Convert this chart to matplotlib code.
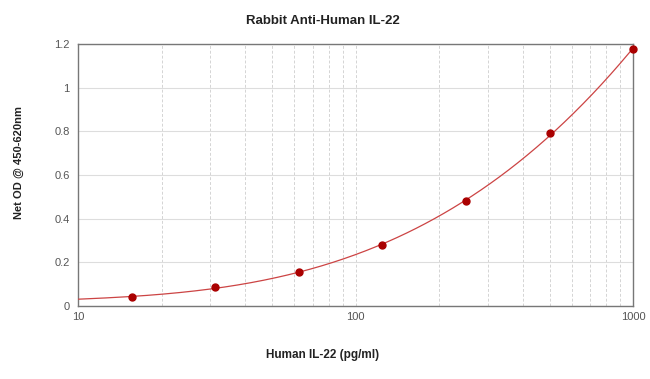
import numpy as np
import matplotlib
matplotlib.use("Agg")
import matplotlib.pyplot as plt
from matplotlib.ticker import LogLocator, FixedLocator, NullFormatter

plt.rcParams['font.family'] = ['Liberation Sans', 'DejaVu Sans']

conc = [15.625, 31.25, 62.5, 125, 250, 500, 1000]
od = [0.041, 0.087, 0.155, 0.280, 0.480, 0.790, 1.177]
title = "Rabbit Anti-Human IL-22"
xlabel = "Human IL-22 (pg/ml)"
ylabel = "Net OD @ 450-620nm"
yticks = [0, 0.2, 0.4, 0.6, 0.8, 1, 1.2]
yticklabels = ["0", "0.2", "0.4", "0.6", "0.8", "1", "1.2"]

fig = plt.figure(figsize=(6.5, 3.79), dpi=100)
ax = fig.add_axes([0.12, 0.1926, 0.854, 0.6914])

# fitted curve from the points (cubic in log concentration)
lx = np.log10(conc)
coef = np.polyfit(lx, od, 3)
xs = np.logspace(1, 3, 300)
ax.plot(xs, np.polyval(coef, np.log10(xs)), color='#cc4444', lw=0.9, zorder=3)
ax.plot(conc, od, 'o', color='#aa0000', ms=5, zorder=4, clip_on=False)

ax.set_xscale('log')
ax.set_xlim(10, 1000)
ax.set_ylim(0, 1.2)
ax.set_yticks(yticks)
ax.set_yticklabels(yticklabels)
ax.xaxis.set_major_locator(FixedLocator([10, 100, 1000]))
ax.set_xticklabels(["10", "100", "1000"])
ax.xaxis.set_minor_locator(LogLocator(base=10, subs=np.arange(2, 10)))
ax.xaxis.set_minor_formatter(NullFormatter())

ax.grid(axis='y', which='major', color='#dddddd', lw=0.8, ls='-')
ax.grid(axis='x', which='both', color='#d4d4d4', lw=0.7, ls=(0, (3, 2)))
ax.set_axisbelow(True)

for s in ax.spines.values():
    s.set_color('#777777')
    s.set_linewidth(1.0)

ax.tick_params(axis='both', which='both', length=0, labelsize=8, labelcolor='#555555')
ax.tick_params(axis='x', pad=4)
ax.tick_params(axis='y', pad=6)

fig.text(0.497, 0.945, title, ha='center', va='center',
         fontsize=9.5, fontweight='bold', color='#222222')
fig.text(0.497, 0.063, xlabel, ha='center', va='center',
         fontsize=8.5, fontweight='bold', color='#222222')
fig.text(0.029, 0.570, ylabel, ha='center', va='center', rotation=90,
         fontsize=8, fontweight='bold', color='#222222')

fig.savefig('out.png', dpi=100, facecolor='white')
